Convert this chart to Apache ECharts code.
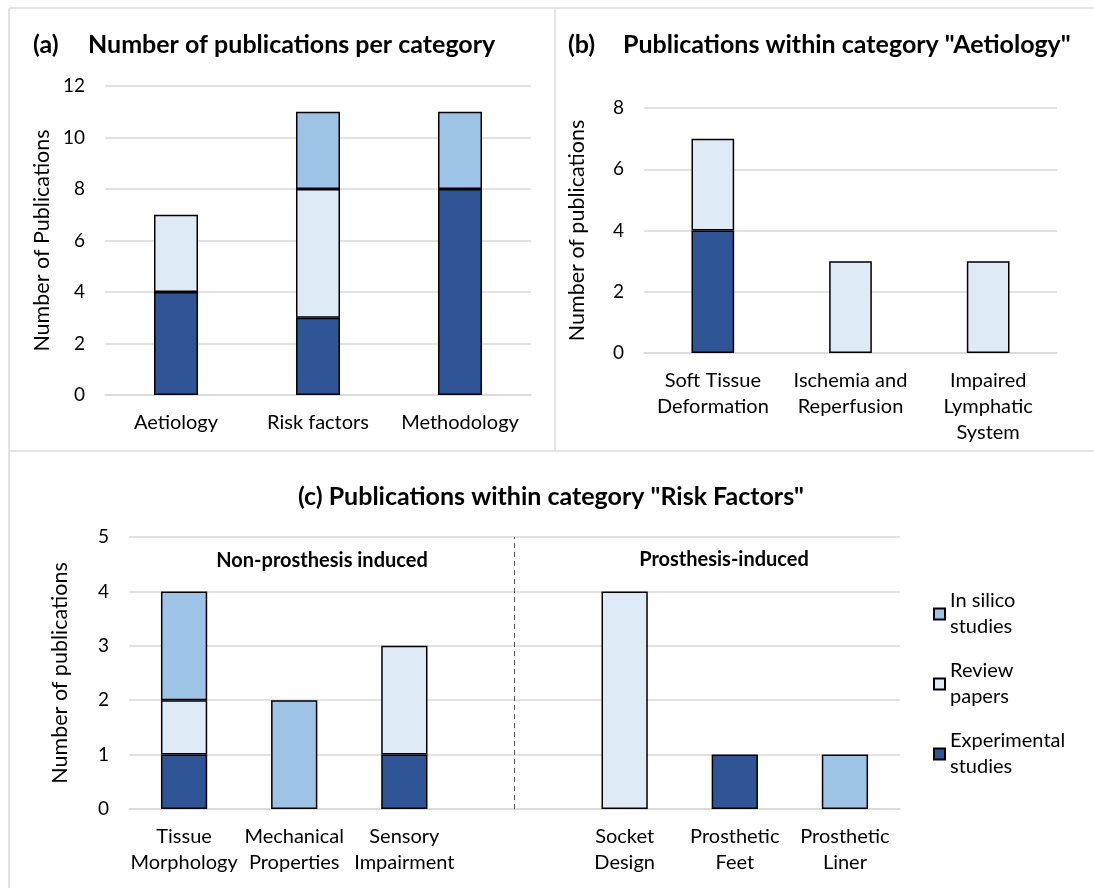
<!DOCTYPE html>
<html>
<head>
<meta charset="utf-8">
<script src="https://cdn.jsdelivr.net/npm/echarts@6/dist/echarts.min.js"></script>
<style>
  html, body { margin: 0; padding: 0; background: #fff; }
  #chart { width: 1094px; height: 888px; }
</style>
</head>
<body>
<div id="chart"></div>
<script>
// (a) publications per category
const catsA = ['Aetiology', 'Risk factors', 'Methodology'];
const expA = [4, 3, 8];
const reviewA = [3, 5, 0];
const silicoA = [0, 3, 3];

// (b) within "Aetiology"
const catsB = ['Soft Tissue\nDeformation', 'Ischemia and\nReperfusion', 'Impaired\nLymphatic\nSystem'];
const expB = [4, 0, 0];
const reviewB = [3, 3, 3];
const silicoB = [0, 0, 0];

// (c) within "Risk Factors" - empty 4th slot separates the two groups
const catsC = ['Tissue\nMorphology', 'Mechanical\nProperties', 'Sensory\nImpairment', '', 'Socket\nDesign', 'Prosthetic\nFeet', 'Prosthetic\nLiner'];
const expC = [1, 0, 1, 0, 0, 1, 0];
const reviewC = [1, 0, 2, 0, 4, 0, 0];
const silicoC = [2, 2, 0, 0, 0, 0, 1];

const seriesNames = ['Experimental studies', 'Review papers', 'In silico studies'];
const seriesColors = ['#2F5597', '#DEEBF7', '#9DC3E6'];

const FONT = 'Lato, "Open Sans", sans-serif';
const gridColor = '#D9D9D9';
const borderColor = '#E3E3E3';

const chart = echarts.init(document.getElementById('chart'));

// zero segments are left out so they don't draw a flat outline
const clean = arr => arr.map(v => (v === 0 ? null : v));

function xAxisFor(gridIndex, cats) {
    return {
        type: 'category',
        gridIndex: gridIndex,
        data: cats,
        axisLine: { show: true, lineStyle: { color: gridColor, width: 1.5 } },
        axisTick: { show: false },
        axisLabel: {
            interval: 0,
            margin: 15,
            color: '#000',
            fontFamily: FONT,
            fontSize: 20,
            lineHeight: 26,
            verticalAlign: 'top'
        }
    };
}

function yAxisFor(gridIndex, max, interval, name, nameGap) {
    return {
        type: 'value',
        gridIndex: gridIndex,
        min: 0,
        max: max,
        interval: interval,
        name: name,
        nameLocation: 'middle',
        nameGap: nameGap,
        nameTextStyle: { color: '#000', fontFamily: FONT, fontSize: 21.5 },
        axisLine: { show: false },
        axisTick: { show: false },
        axisLabel: { color: '#000', fontFamily: FONT, fontSize: 19, margin: 20 },
        splitLine: { lineStyle: { color: gridColor, width: 1.5 } }
    };
}

function stackSeries(axisIndex, stackId, values, barWidth) {
    return values.map((vals, i) => ({
        name: seriesNames[i],
        type: 'bar',
        stack: stackId,
        xAxisIndex: axisIndex,
        yAxisIndex: axisIndex,
        barWidth: barWidth,
        data: clean(vals),
        itemStyle: { color: seriesColors[i], borderColor: '#000', borderWidth: 1.5 },
        emphasis: { disabled: true },
        animation: false
    }));
}

const seriesA = stackSeries(0, 'a', [expA, reviewA, silicoA], '31%');
const seriesB = stackSeries(1, 'b', [expB, reviewB, silicoB], '31%');
const seriesC = stackSeries(2, 'c', [expC, reviewC, silicoC], '42%');

// dashed divider through the empty category
seriesC[0].markLine = {
    silent: true,
    symbol: ['none', 'none'],
    label: { show: false },
    lineStyle: { type: [5, 4], color: '#595959', width: 1 },
    data: [{ xAxis: 3 }],
    animation: false
};

const titleFont = 'bold 25px ' + FONT;
const labelFont = 'bold 20px ' + FONT;

const option = {
    backgroundColor: '#fff',
    animation: false,
    grid: [
        { left: 105, top: 86, width: 426, height: 309 },
        { left: 644, top: 108, width: 413, height: 245 },
        { left: 129, top: 537, width: 771, height: 272 }
    ],
    xAxis: [xAxisFor(0, catsA), xAxisFor(1, catsB), xAxisFor(2, catsC)],
    yAxis: [
        yAxisFor(0, 12, 2, 'Number of Publications', 52),
        yAxisFor(1, 8, 2, 'Number of publications', 56),
        yAxisFor(2, 5, 1, 'Number of publications', 58)
    ],
    legend: {
        orient: 'vertical',
        left: 928,
        top: 570,
        icon: 'rect',
        itemWidth: 11,
        itemHeight: 11,
        itemGap: -8,
        selectedMode: false,
        data: ['In silico studies', 'Review papers', 'Experimental studies'],
        formatter: name => ({
            'In silico studies': 'In silico\nstudies',
            'Review papers': 'Review\npapers',
            'Experimental studies': 'Experimental\nstudies'
        })[name],
        textStyle: {
            color: '#000',
            fontFamily: FONT,
            fontSize: 20,
            lineHeight: 26,
            padding: [26, 0, 0, 0]
        }
    },
    graphic: [
        // panel frame
        { type: 'line', silent: true, shape: { x1: 9, y1: 8, x2: 1094, y2: 8 }, style: { stroke: borderColor, lineWidth: 2 } },
        { type: 'line', silent: true, shape: { x1: 9, y1: 8, x2: 9, y2: 888 }, style: { stroke: borderColor, lineWidth: 2 } },
        { type: 'line', silent: true, shape: { x1: 555, y1: 8, x2: 555, y2: 451 }, style: { stroke: borderColor, lineWidth: 2 } },
        { type: 'line', silent: true, shape: { x1: 9, y1: 451, x2: 1094, y2: 451 }, style: { stroke: borderColor, lineWidth: 2 } },
        // titles
        { type: 'text', silent: true, style: { text: '(a)', x: 33, y: 45, font: titleFont, fill: '#000', verticalAlign: 'middle' } },
        { type: 'text', silent: true, style: { text: 'Number of publications per category', x: 88, y: 45, font: titleFont, fill: '#000', verticalAlign: 'middle' } },
        { type: 'text', silent: true, style: { text: '(b)', x: 568, y: 45, font: titleFont, fill: '#000', verticalAlign: 'middle' } },
        { type: 'text', silent: true, style: { text: 'Publications within category "Aetiology"', x: 623, y: 45, font: titleFont, fill: '#000', verticalAlign: 'middle' } },
        { type: 'text', silent: true, style: { text: '(c) Publications within category "Risk Factors"', x: 551, y: 497, font: titleFont, fill: '#000', align: 'center', verticalAlign: 'middle' } },
        // group labels in (c)
        { type: 'text', silent: true, style: { text: 'Non-prosthesis induced', x: 322, y: 561, font: labelFont, fill: '#000', align: 'center', verticalAlign: 'middle' } },
        { type: 'text', silent: true, style: { text: 'Prosthesis-induced', x: 724, y: 560, font: labelFont, fill: '#000', align: 'center', verticalAlign: 'middle' } }
    ],
    series: [...seriesA, ...seriesB, ...seriesC]
};

chart.setOption(option);
</script>
</body>
</html>
